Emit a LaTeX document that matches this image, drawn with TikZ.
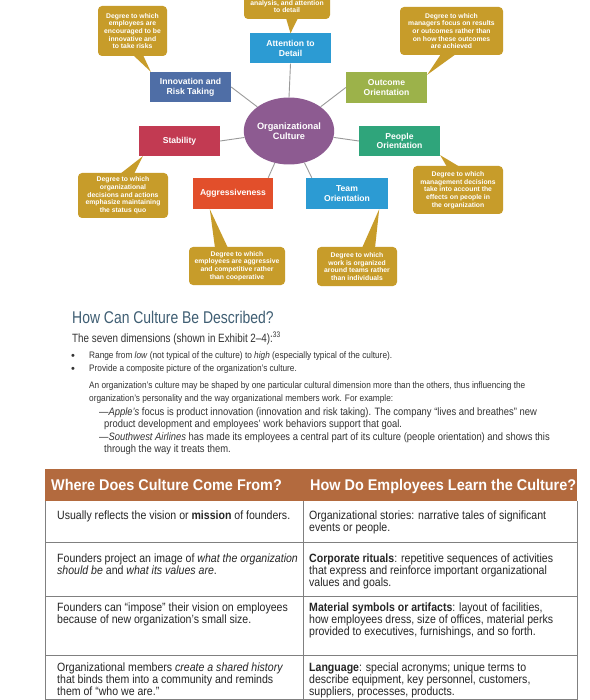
\documentclass[tikz,border=0pt]{standalone}
\usepackage{fontspec}
\setmainfont{Liberation Sans}
\newfontfamily\cnd[FakeStretch=0.82]{Liberation Sans}
\newfontfamily\cndb[FakeStretch=0.88]{Liberation Sans}
\newfontfamily\hdrf[FakeStretch=0.93]{Liberation Sans}
\newfontfamily\dgm{Liberation Sans}
\usetikzlibrary{shapes.geometric,calc}
\definecolor{blueA}{HTML}{2C9BD3}
\definecolor{innc}{HTML}{4F6EA6}
\definecolor{outc}{HTML}{9CB24A}
\definecolor{stac}{HTML}{C23A52}
\definecolor{peoc}{HTML}{2FA57B}
\definecolor{aggc}{HTML}{E24F2B}
\definecolor{circc}{HTML}{8D5B91}
\definecolor{gold}{HTML}{C79C2A}
\definecolor{headc}{HTML}{3F5E73}
\definecolor{hdrc}{HTML}{B36A3E}
\definecolor{linegray}{HTML}{9A9A9A}
\definecolor{bodyc}{HTML}{333333}
\definecolor{tline}{HTML}{808080}
\begin{document}
\begin{tikzpicture}[x=1pt,y=-1pt,
  dimbox/.style={rectangle, inner sep=0pt, minimum width=81pt, minimum height=30pt, text=white, align=center, font=\dgm\bfseries\fontsize{8.6}{9.8}\selectfont},
  callout/.style={rectangle, rounded corners=4pt, fill=gold, inner sep=0pt, text=white, align=center, font=\dgm\bfseries\fontsize{6.8}{7.7}\selectfont},
  conn/.style={draw=linegray, line width=0.9pt},
  txt/.style={anchor=base west, inner sep=0pt, text=bodyc},
  para/.style={txt, font=\cndb\fontsize{9.4}{11}\selectfont},
  expl/.style={txt, font=\cndb\fontsize{10.7}{12}\selectfont},
  cell/.style={txt, text=black!85, font=\cndb\fontsize{12}{13}\selectfont},
  hdrtxt/.style={anchor=base west, inner sep=0pt, text=white, font=\hdrf\bfseries\fontsize{15.5}{17}\selectfont},
  bul/.style={anchor=base west, inner sep=0pt, text=bodyc, font=\dgm\fontsize{11}{12}\selectfont},
  tl/.style={draw=tline, line width=0.6pt}]
\useasboundingbox (0,0) rectangle (589,700);
\fill[white] (0,0) rectangle (589,700);

% ---- diagram boxes ----
\node[dimbox, fill=blueA] (att) at (290.5,48.5) {Attention to\\Detail};
\node[dimbox, fill=innc] (inn) at (190.5,87) {Innovation and\\Risk Taking};
\node[dimbox, fill=outc, minimum height=31pt] (out) at (386.5,87.5) {Outcome\\Orientation};
\node[dimbox, fill=stac] (sta) at (179.5,141) {Stability};
\node[dimbox, fill=peoc] (peo) at (399.5,141) {People\\Orientation};
\node[dimbox, fill=aggc, minimum width=80pt, minimum height=31pt] (agg) at (233,193.5) {Aggressiveness};
\node[dimbox, fill=blueA, minimum width=82pt, minimum height=31pt] (team) at (347,193.5) {Team\\Orientation};
\node[ellipse, fill=circc, minimum width=75pt, minimum height=67pt, inner sep=0pt, text=white, align=center, font=\dgm\bfseries\fontsize{9.2}{10.5}\selectfont] (circ) at (289,131) {Organizational\\Culture};

% ---- connectors ----
\draw[conn] (att.south) -- (circ.north);
\draw[conn] (inn.east) -- (circ);
\draw[conn] (out.west) -- (circ);
\draw[conn] (sta.east) -- (circ);
\draw[conn] (peo.west) -- (circ);
\coordinate (aggtop) at ($(agg.north east)+(-5,0)$);
\coordinate (teamtop) at ($(team.north west)+(6,0)$);
\draw[conn] (aggtop) -- (circ);
\draw[conn] (teamtop) -- (circ);

% ---- callouts ----
\begin{scope}
\clip (0,0) rectangle (589,700);
\fill[gold, rounded corners=4pt] (244,-12) rectangle (330,19);
\end{scope}
\node[inner sep=0pt, text=white, align=center, font=\dgm\bfseries\fontsize{6.8}{7.7}\selectfont] (catt) at (287,6.5) {analysis, and attention\\to detail};
\fill[gold] (286,18) -- (298,18) -- (att.north) -- cycle;

\node[callout, minimum width=69pt, minimum height=50pt] (cinn) at (132.5,31) {Degree to which\\employees are\\encouraged to be\\innovative and\\to take risks};
\fill[gold] (133,55) -- (143,55) -- ($(inn.north west)+(1,0)$) -- cycle;

\node[callout, minimum width=103pt, minimum height=48pt] (cout) at (451.5,31) {Degree to which\\managers focus on results\\or outcomes rather than\\on how these outcomes\\are achieved};
\fill[gold] (441,54) -- (456,54) -- ($(out.north east)+(0,3)$) -- cycle;

\node[callout, minimum width=90pt, minimum height=45pt] (csta) at (123,195.5) {Degree to which\\organizational\\decisions and actions\\emphasize maintaining\\the status quo};
\fill[gold] (120,174) -- (134,174) -- ($(sta.south west)+(4,0)$) -- cycle;

\node[callout, minimum width=90pt, minimum height=48pt] (cpeo) at (458,190) {Degree to which\\management decisions\\take into account the\\effects on people in\\the organization};
\fill[gold] (447,167) -- (460,167) -- ($(peo.south east)+(0,-1)$) -- cycle;

\node[callout, minimum width=96pt, minimum height=38pt] (cagg) at (237,266) {Degree to which\\employees are aggressive\\and competitive rather\\than cooperative};
\fill[gold] (215,248) -- (228,248) -- ($(agg.south west)+(17,0)$) -- cycle;

\node[callout, minimum width=80pt, minimum height=39pt] (cteam) at (357,266.5) {Degree to which\\work is organized\\around teams rather\\than individuals};
\fill[gold] (362,248) -- (375,248) -- ($(team.south east)+(-9,0)$) -- cycle;

% ---- text section ----
\node[anchor=base west, inner sep=0pt, text=headc, font=\cnd\fontsize{17}{19}\selectfont] (hd) at (72,323) {How Can Culture Be Described?};
\node[txt, font=\cnd\fontsize{12}{14}\selectfont] (sev) at (72,342) {The seven dimensions (shown in Exhibit 2–4):\textsuperscript{33}};
\node[bul] (b1) at (71,359) {•};
\node[bul] (b2) at (71,372) {•};
\node[para] (l1) at (89,358) {Range from \textit{low} (not typical of the culture) to \textit{high} (especially typical of the culture).};
\node[para] (l2) at (89,371) {Provide a composite picture of the organization’s culture.};
\node[para] (l3) at (89,388) {An organization’s culture may be shaped by one particular cultural dimension more than the others, thus influencing the};
\node[para] (l4) at (89,401) {organization’s personality and the way organizational members work. For example:};
\node[expl] (l5) at (99,415.5) {—\textit{Apple’s} focus is product innovation (innovation and risk taking). The company “lives and breathes” new};
\node[expl] (l6) at (104,427.5) {product development and employees’ work behaviors support that goal.};
\node[expl] (l7) at (99,440.5) {—\textit{Southwest Airlines} has made its employees a central part of its culture (people orientation) and shows this};
\node[expl] (l8) at (104,452.5) {through the way it treats them.};

% ---- table ----
\fill[hdrc] (45,469) rectangle (577,501);
\node[hdrtxt] (h1) at (51,490) {Where Does Culture Come From?};
\node[hdrtxt] (h2) at (310,490) {How Do Employees Learn the Culture?};
\draw[tl] (45,501) -- (45,700);
\draw[tl] (577,501) -- (577,700);
\draw[tl] (303,501) -- (303,700);
\draw[tl] (45,542) -- (577,542);
\draw[tl] (45,596) -- (577,596);
\draw[tl] (45,655) -- (577,655);
\draw[tl] (45,699.5) -- (577,699.5);

\node[cell] (r1a) at (57,519) {Usually reflects the vision or \textbf{mission} of founders.};
\node[cell] (r1b) at (309,519) {Organizational stories: narrative tales of significant};
\node[cell] (r1c) at (309,531) {events or people.};

\node[cell] (r2a) at (57,562) {Founders project an image of \textit{what the organization}};
\node[cell] (r2b) at (57,574) {\textit{should be} and \textit{what its values are}.};
\node[cell] (r2c) at (309,562) {\textbf{Corporate rituals}: repetitive sequences of activities};
\node[cell] (r2d) at (309,574) {that express and reinforce important organizational};
\node[cell] (r2e) at (309,586) {values and goals.};

\node[cell] (r3a) at (57,611) {Founders can “impose” their vision on employees};
\node[cell] (r3b) at (57,623) {because of new organization’s small size.};
\node[cell] (r3c) at (309,611) {\textbf{Material symbols or artifacts}: layout of facilities,};
\node[cell] (r3d) at (309,623) {how employees dress, size of offices, material perks};
\node[cell] (r3e) at (309,635) {provided to executives, furnishings, and so forth.};

\node[cell] (r4a) at (57,671) {Organizational members \textit{create a shared history}};
\node[cell] (r4b) at (57,683) {that binds them into a community and reminds};
\node[cell] (r4c) at (57,695) {them of “who we are.”};
\node[cell] (r4d) at (309,671) {\textbf{Language}: special acronyms; unique terms to};
\node[cell] (r4e) at (309,683) {describe equipment, key personnel, customers,};
\node[cell] (r4f) at (309,695) {suppliers, processes, products.};
\end{tikzpicture}
\end{document}
